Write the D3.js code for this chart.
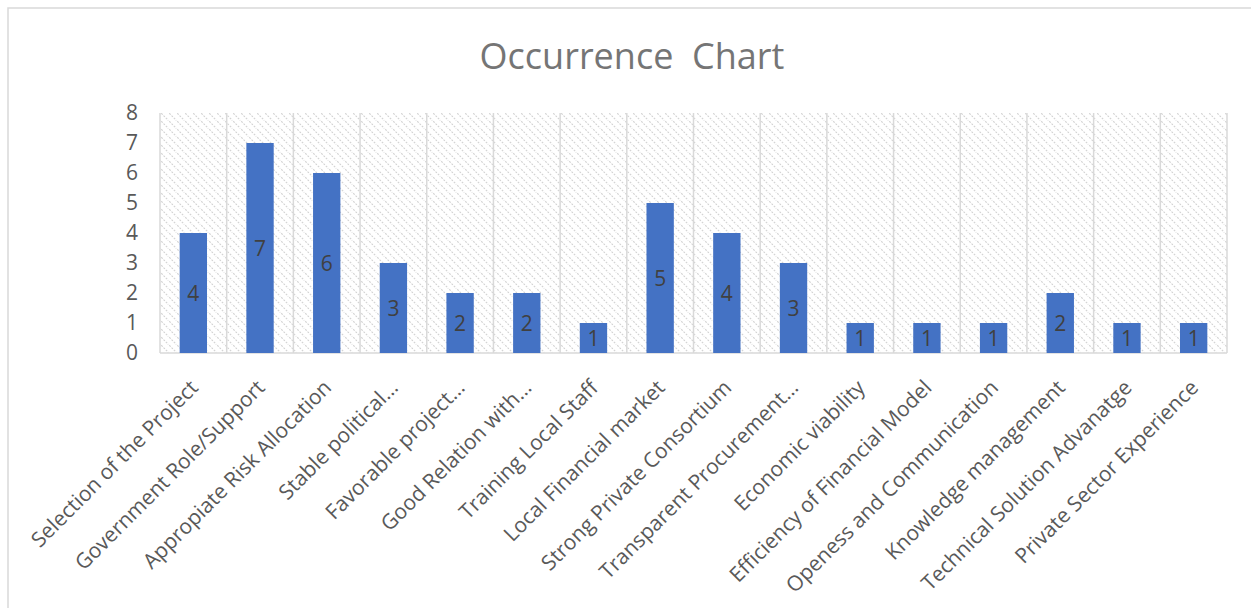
<!DOCTYPE html>
<html>
<head>
<meta charset="utf-8">
<script src="https://cdn.jsdelivr.net/npm/d3@7"></script>
<style>
  html, body { margin: 0; padding: 0; background: #fff; }
  svg { display: block; font-family: "Open Sans", "Noto Sans", sans-serif; }
</style>
</head>
<body>
<svg id="chart" width="1251" height="608"></svg>
<script>
const categories = [
  "Selection of the Project",
  "Government Role/Support",
  "Appropiate Risk Allocation",
  "Stable political…",
  "Favorable project…",
  "Good Relation with…",
  "Training Local Staff",
  "Local Financial market",
  "Strong Private Consortium",
  "Transparent Procurement…",
  "Economic viability",
  "Efficiency of Financial Model",
  "Openess and Communication",
  "Knowledge management",
  "Technical Solution Advanatge",
  "Private Sector Experience"
];
const occurrences = [4, 7, 6, 3, 2, 2, 1, 5, 4, 3, 1, 1, 1, 2, 1, 1];
const yTicks = [0, 1, 2, 3, 4, 5, 6, 7, 8];
const title = "Occurrence\u00a0\u00a0Chart";

const svg = d3.select("#chart");
const W = 1251, H = 608;
const plot = { left: 160, right: 1227, top: 113, bottom: 353 };

// outer chart frame
svg.append("rect").attr("x", 8).attr("y", 8).attr("width", W).attr("height", H)
  .attr("fill", "#fff").attr("stroke", "#d9d9d9").attr("stroke-width", 1.5);

// hatch pattern
const defs = svg.append("defs");
const pat = defs.append("pattern").attr("id", "hatch")
  .attr("patternUnits", "userSpaceOnUse").attr("width", 8).attr("height", 8);
pat.append("path").attr("d", "M-1,-1 L9,9 M-9,-1 L1,9 M7,-1 L17,9")
  .attr("stroke", "#d2d2d2").attr("stroke-width", 1.1).attr("stroke-dasharray", "2,1.2");

const x = d3.scaleBand().domain(categories).range([plot.left, plot.right]).paddingInner(0).paddingOuter(0);
const y = d3.scaleLinear().domain([0, 8]).range([plot.bottom, plot.top]);

svg.append("rect").attr("x", plot.left).attr("y", plot.top)
  .attr("width", plot.right - plot.left).attr("height", plot.bottom - plot.top)
  .attr("fill", "url(#hatch)");

// vertical gridlines at category boundaries
const bounds = categories.map(c => x(c)).concat([plot.right]);
svg.append("g").selectAll("line").data(bounds).join("line")
  .attr("x1", d => d).attr("x2", d => d)
  .attr("y1", plot.top).attr("y2", plot.bottom)
  .attr("stroke", "#d9d9d9").attr("stroke-width", 1.5);

// baseline
svg.append("line").attr("x1", plot.left).attr("x2", plot.right)
  .attr("y1", plot.bottom).attr("y2", plot.bottom)
  .attr("stroke", "#d9d9d9").attr("stroke-width", 1.5);

// y axis labels
const yAxis = d3.axisLeft(y).tickValues(yTicks).tickSize(0).tickPadding(22).tickFormat(d3.format("d"));
const gy = svg.append("g").attr("transform", `translate(${plot.left},0)`).call(yAxis);
gy.select(".domain").remove();
gy.selectAll("text").attr("fill", "#595959").attr("font-size", 21)
  .attr("font-family", "'Open Sans', sans-serif");

// bars
const bw = x.bandwidth() * 0.41;
svg.append("g").selectAll("rect").data(occurrences).join("rect")
  .attr("x", (d, i) => x(categories[i]) + x.bandwidth() / 2 - bw / 2)
  .attr("y", d => y(d))
  .attr("width", bw)
  .attr("height", d => y(0) - y(d))
  .attr("fill", "#4472c4");

// value labels
svg.append("g").selectAll("text").data(occurrences).join("text")
  .attr("x", (d, i) => x(categories[i]) + x.bandwidth() / 2)
  .attr("y", d => (y(d) + y(0)) / 2)
  .attr("dy", "0.36em")
  .attr("text-anchor", "middle")
  .attr("font-size", 21)
  .attr("fill", "#404040")
  .text(d => d);

// x labels rotated
const xAxis = d3.axisBottom(x).tickSize(0).tickPadding(0);
const gx = svg.append("g").attr("transform", `translate(0,${plot.bottom})`).call(xAxis);
gx.select(".domain").remove();
gx.selectAll("text")
  .attr("font-size", 21)
  .attr("fill", "#595959")
  .attr("font-family", "'Open Sans', sans-serif")
  .attr("text-anchor", "end")
  .attr("dy", null)
  .attr("y", 0)
  .attr("transform", "translate(6,36) rotate(-45)");

// title
svg.append("text").attr("x", 632).attr("y", 69)
  .attr("text-anchor", "middle")
  .attr("font-size", 36)
  .attr("fill", "#757575")
  .text(title);
</script>
</body>
</html>
